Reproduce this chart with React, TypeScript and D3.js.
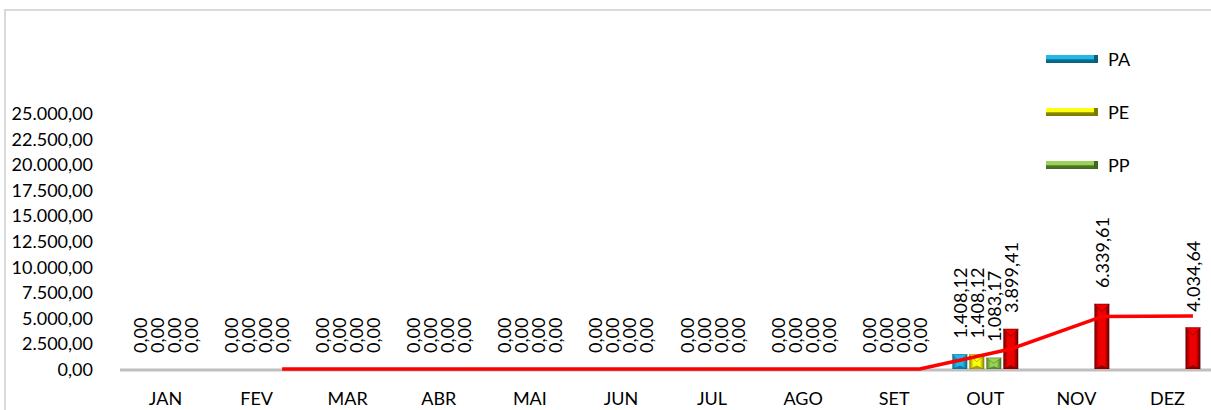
import React from 'react';
import * as d3 from 'd3';

const months = ['JAN', 'FEV', 'MAR', 'ABR', 'MAI', 'JUN', 'JUL', 'AGO', 'SET', 'OUT', 'NOV', 'DEZ'];
const seriesNames = ['PA', 'PE', 'PP', 'TOTAL'];
const pa: (number | null)[] = [0, 0, 0, 0, 0, 0, 0, 0, 0, 1408.12, null, null];
const pe: (number | null)[] = [0, 0, 0, 0, 0, 0, 0, 0, 0, 1408.12, null, null];
const pp: (number | null)[] = [0, 0, 0, 0, 0, 0, 0, 0, 0, 1083.17, null, null];
const total: (number | null)[] = [0, 0, 0, 0, 0, 0, 0, 0, 0, 3899.41, 6339.61, 4034.64];
// 2-period moving average trendline of TOTAL
const movingAvg: (number | null)[] = [null, 0, 0, 0, 0, 0, 0, 0, 0, 1949.71, 5119.51, 5187.13];
const yTicks = [0, 2500, 5000, 7500, 10000, 12500, 15000, 17500, 20000, 22500, 25000];
const legendNames = ['PA', 'PE', 'PP'];

const colors: Record<string, [string, string, string]> = {
  PA: ['#0a6f93', '#22b8ea', '#0b5e7c'],
  PE: ['#8a8a00', '#ffff10', '#7a7a00'],
  PP: ['#4f7a26', '#9bd35a', '#42681f'],
  TOTAL: ['#6e0000', '#ee0000', '#5a0000'],
};

const W = 1211;
const H = 410;
const FONT = 'Lato, "Open Sans", sans-serif';
const FS = 18;

const br = d3.formatLocale({ decimal: ',', thousands: '.', grouping: [3], currency: ['', ''] });
const fmt = br.format(',.2f');

export default function App() {
  const x0 = d3.scaleBand<string>().domain(months).range([120, 1213]).paddingInner(0).paddingOuter(0);
  const x1 = d3.scaleBand<string>().domain(seriesNames).range([0, x0.bandwidth()])
    .paddingInner(0.12).paddingOuter(0.74);
  const y = d3.scaleLinear().domain([0, 25000]).range([369, 113]);

  const table: Record<string, (number | null)[]> = { PA: pa, PE: pe, PP: pp, TOTAL: total };
  const bw = x1.bandwidth();

  const linePts: [number, number][] = [];
  movingAvg.forEach((v, i) => {
    if (v == null) return;
    linePts.push([(x0(months[i]) || 0) + (x1('TOTAL') || 0) + bw / 2, y(v)]);
  });
  const line = d3.line();

  return (
    <svg width={W} height={H} style={{ position: 'absolute', left: 0, top: 0, background: '#fff' }}
      fontFamily={FONT}>
      <defs>
        {seriesNames.map(s => (
          <linearGradient key={s} id={'g-' + s} x1="0" x2="1" y1="0" y2="0">
            <stop offset="0" stopColor={colors[s][0]} />
            <stop offset="0.3" stopColor={colors[s][1]} />
            <stop offset="0.7" stopColor={colors[s][1]} />
            <stop offset="1" stopColor={colors[s][2]} />
          </linearGradient>
        ))}
        {legendNames.map(s => (
          <linearGradient key={s} id={'lg-' + s} x1="0" x2="0" y1="0" y2="1">
            <stop offset="0" stopColor={colors[s][1]} />
            <stop offset="0.45" stopColor={colors[s][1]} />
            <stop offset="0.6" stopColor={colors[s][0]} />
            <stop offset="1" stopColor={colors[s][2]} />
          </linearGradient>
        ))}
      </defs>

      {/* chart border */}
      <path d={`M5,${H} V10 H${W}`} fill="none" stroke="#d9d9d9" strokeWidth={2} />

      {/* y tick labels */}
      {yTicks.map(t => (
        <text key={t} x={93} y={y(t)} textAnchor="end" dominantBaseline="central" fontSize={FS} fill="#000">
          {fmt(t)}
        </text>
      ))}

      {/* baseline */}
      <line x1={120} x2={W} y1={370} y2={370} stroke="#bfbfbf" strokeWidth={3} />

      {/* bars */}
      {months.map((m, i) => (
        <g key={m}>
          {seriesNames.map(s => {
            const v = table[s][i];
            if (v == null || v <= 0) return null;
            const bx = (x0(m) || 0) + (x1(s) || 0);
            const top = y(v);
            const h = y(0) - top;
            const bev = Math.min(bw / 2, h / 2);
            return (
              <g key={s}>
                <rect x={bx} y={top} width={bw} height={h} fill={`url(#g-${s})`} />
                <path d={`M${bx},${top} H${bx + bw} L${bx + bw / 2},${top + bev} Z`}
                  fill={colors[s][1]} stroke={colors[s][0]} strokeWidth={0.6} />
                <path d={`M${bx},${y(0)} H${bx + bw} L${bx + bw / 2},${y(0) - bev * 0.5} Z`}
                  fill={colors[s][2]} opacity={0.7} />
              </g>
            );
          })}
        </g>
      ))}

      {/* moving average line */}
      <path d={line(linePts) || ''} fill="none" stroke="#ff0000" strokeWidth={3.5} strokeLinejoin="round" />

      {/* data labels */}
      {months.map((m, i) => (
        <g key={'l' + m}>
          {seriesNames.map(s => {
            const v = table[s][i];
            if (v == null) return null;
            const cx = (x0(m) || 0) + (x1(s) || 0) + bw / 2;
            const ly = y(v) - 16;
            return (
              <text key={s} transform={`translate(${cx},${ly}) rotate(-90)`} textAnchor="start"
                dominantBaseline="central" fontSize={FS} fill="#000">
                {fmt(v)}
              </text>
            );
          })}
        </g>
      ))}

      {/* category labels */}
      {months.map(m => (
        <text key={'c' + m} x={(x0(m) || 0) + x0.bandwidth() / 2} y={398} textAnchor="middle"
          dominantBaseline="central" fontSize={FS} fill="#000">
          {m}
        </text>
      ))}

      {/* legend */}
      {legendNames.map((s, i) => {
        const ly = 59 + i * 53;
        return (
          <g key={'leg' + s}>
            <rect x={1046} y={ly - 4} width={52} height={8} fill={`url(#lg-${s})`} />
            <path d={`M1094,${ly - 4} L1098,${ly - 4} L1098,${ly + 4} L1094,${ly + 4} Z`} fill={colors[s][2]} />
            <text x={1108} y={ly} dominantBaseline="central" fontSize={FS} fill="#000">{s}</text>
          </g>
        );
      })}
    </svg>
  );
}
